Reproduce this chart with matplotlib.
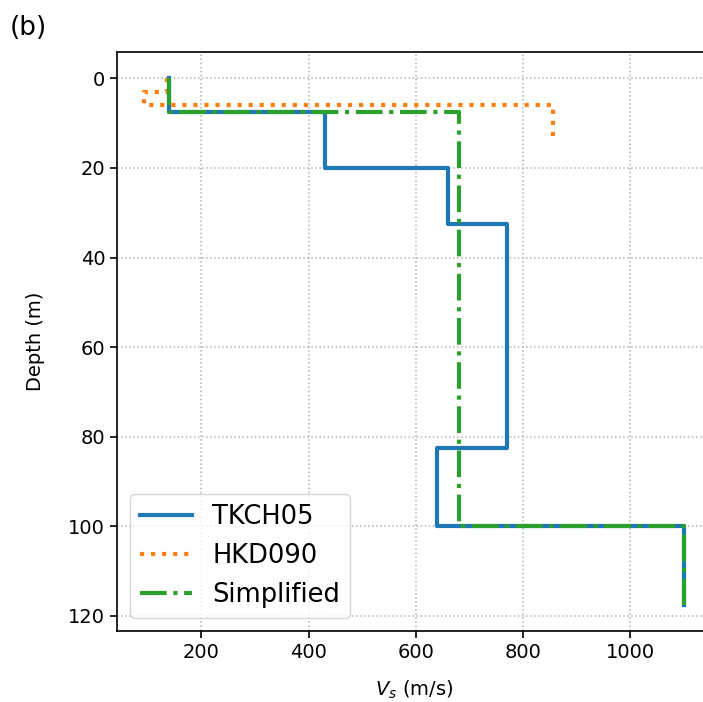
import numpy as np
import matplotlib
matplotlib.use("Agg")
import matplotlib.pyplot as plt

# Layer boundaries (m) and shear-wave velocities (m/s)
tkch05_depth = [0, 7.5, 20, 32.5, 82.5, 100, 117.5]
tkch05_vs = [140, 430, 660, 770, 640, 1100]
hkd090_depth = [0, 3, 6, 13.5]
hkd090_vs = [136, 93, 855]
simp_depth = [0, 7.5, 100, 117.5]
simp_vs = [140, 680, 1100]


def step_profile(depth, vs):
    d = np.asarray(depth, dtype=float)
    v = np.asarray(vs, dtype=float)
    x = np.repeat(v, 2)
    y = np.column_stack([d[:-1], d[1:]]).ravel()
    return x, y


fig = plt.figure(figsize=(7.03, 7.02), dpi=100)
W, H = 703, 702
ax = fig.add_axes([117 / W, (H - 631) / H, (711 - 117) / W, (631 - 52) / H])

x, y = step_profile(tkch05_depth, tkch05_vs)
ax.plot(x, y, color="#1f77b4", lw=3.0, ls="-", label="TKCH05")
x, y = step_profile(hkd090_depth, hkd090_vs)
ax.plot(x, y, color="#ff7f0e", lw=3.0, ls=":", label="HKD090")
x, y = step_profile(simp_depth, simp_vs)
ax.plot(x, y, color="#2ca02c", lw=3.0, ls="-.", label="Simplified")

ax.invert_yaxis()
ax.grid(True, ls=":", color="#b0b0b0", lw=1.1)
ax.set_xticks([200, 400, 600, 800, 1000])
ax.set_yticks([0, 20, 40, 60, 80, 100, 120])
ax.tick_params(labelsize=14, width=1.2, length=5)
for s in ax.spines.values():
    s.set_linewidth(1.2)
ax.set_xlabel("$V_s$ (m/s)", fontsize=14, labelpad=12)
ax.set_ylabel("Depth (m)", fontsize=14, labelpad=17)
ax.legend(loc="lower left", fontsize=18.5, handlelength=2.0)

fig.text(0.014, 0.978, "(b)", fontsize=19, va="top", ha="left")

fig.savefig("out.png", dpi=100)
